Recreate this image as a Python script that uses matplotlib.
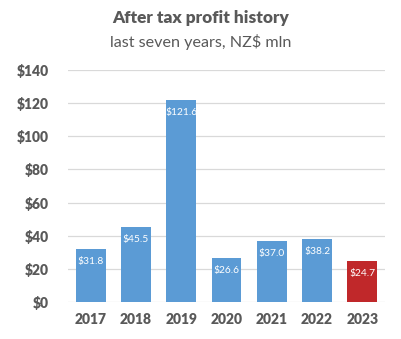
import matplotlib.pyplot as plt

years = ["2017", "2018", "2019", "2020", "2021", "2022", "2023"]
profit = [31.8, 45.5, 121.6, 26.6, 37.0, 38.2, 24.7]
bar_colors = ["#5B9BD5"] * 6 + ["#C0282A"]

plt.rcParams['font.family'] = ['Lato', 'DejaVu Sans']

fig = plt.figure(figsize=(4.01, 3.39), dpi=100)
ax = fig.add_axes([0.170, 0.109, 0.790, 0.685])

x = range(len(years))
bars = ax.bar(x, profit, width=0.66, color=bar_colors, zorder=3)

for i, v in enumerate(profit):
    ax.annotate(f"${v:.1f}", (i, v), xytext=(0, -9), textcoords="offset points",
                ha="center", va="center", color="white", fontsize=7.4)

ax.set_xlim(-0.5, len(years) - 0.5)
ax.set_ylim(0, 140)
ax.set_yticks(range(0, 141, 20))
ax.set_yticklabels([f"${t}" for t in range(0, 141, 20)])
ax.set_xticks(list(x))
ax.set_xticklabels(years)
ax.grid(axis="y", color="#D9D9D9", linewidth=0.9, zorder=0)
for s in ax.spines.values():
    s.set_visible(False)
ax.tick_params(length=0, colors="#595959", labelsize=10, pad=8)
for lab in ax.get_xticklabels() + ax.get_yticklabels():
    lab.set_fontweight("heavy")
ax.tick_params(axis="y", pad=14)

fig.text(0.5, 0.948, "After tax profit history", ha="center", va="center",
         fontsize=12.4, fontweight="heavy", color="#595959")
fig.text(0.5, 0.875, "last seven years, NZ$ mln", ha="center", va="center",
         fontsize=11.6, color="#595959")

fig.savefig("out.png", dpi=100)
